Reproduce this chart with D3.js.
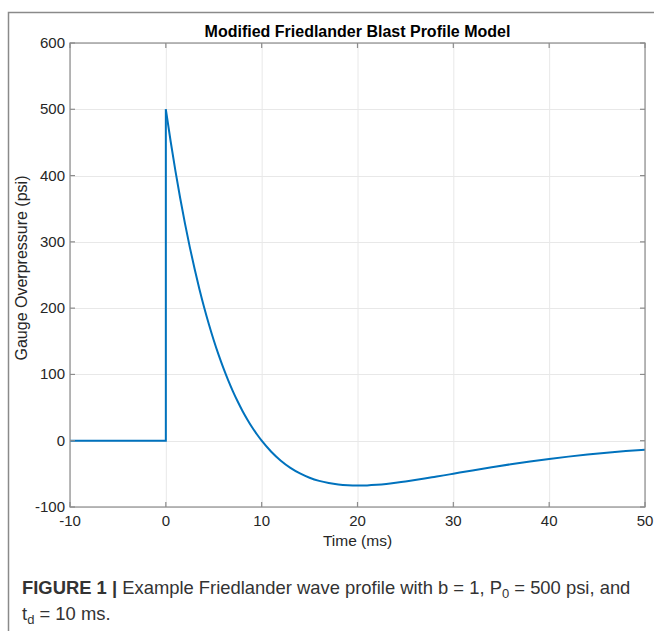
<!DOCTYPE html>
<html><head><meta charset="utf-8">
<script src="https://cdn.jsdelivr.net/npm/d3@7"></script>
<style>
body{margin:0;background:#fff;}
svg{display:block;font-family:"Liberation Sans",Arial,Helvetica,sans-serif;}
</style></head>
<body><svg id="c" width="654" height="631"></svg>
<script>
// Data
const preTime = [-10, 0, 0];
const prePressure = [0, 0, 500];
const decayTime = [0,0.5,1,1.5,2,2.5,3,3.5,4,4.5,5,5.5,6,6.5,7,7.5,8,8.5,9,9.5,10,11,12,13,14,15,16,17,18,19,20,21,22,23,24,25,26,27,28,29,30,32,34,36,38,40,42,44,46,48,50];
const decayPressure = [500,451.8,407.2,365.8,327.5,292.1,259.3,229.0,201.1,175.4,151.6,129.8,109.8,91.4,74.5,59.1,44.9,32.1,20.3,9.7,0,-16.6,-30.1,-40.9,-49.3,-55.8,-60.6,-63.9,-66.1,-67.3,-67.7,-67.4,-66.5,-65.2,-63.5,-61.6,-59.4,-57.1,-54.7,-52.3,-49.8,-44.8,-40.1,-35.5,-31.3,-27.5,-24.0,-20.9,-18.1,-15.6,-13.5];
const xTicks = [-10,0,10,20,30,40,50];
const yTicks = [-100,0,100,200,300,400,500,600];

const svg = d3.select("#c");
const L=70, R=645, T=43, B=507;
const x = d3.scaleLinear().domain([-10,50]).range([L,R]);
const y = d3.scaleLinear().domain([-100,600]).range([B,T]);

// outer frame
svg.append("path").attr("d","M8.5,640 V12.5 H660").attr("fill","none").attr("stroke","#8a8a8a").attr("stroke-width",1.5);

// grid
const g = svg.append("g");
g.selectAll(".gx").data(xTicks).join("line")
 .attr("x1",d=>x(d)+0.5).attr("x2",d=>x(d)+0.5).attr("y1",T).attr("y2",B)
 .attr("stroke","#e8e8e8").attr("stroke-width",1);
g.selectAll(".gy").data(yTicks).join("line")
 .attr("y1",d=>Math.round(y(d))+0.5).attr("y2",d=>Math.round(y(d))+0.5).attr("x1",L).attr("x2",R)
 .attr("stroke","#e8e8e8").attr("stroke-width",1);

// curve
const lineGen = d3.line().x(d=>x(d[0])).y(d=>y(d[1]));
svg.append("path").datum(preTime.map((t,i)=>[t,prePressure[i]]))
 .attr("d",lineGen).attr("fill","none").attr("stroke","#0072BD").attr("stroke-width",2);
svg.append("path").datum(decayTime.map((t,i)=>[t,decayPressure[i]]))
 .attr("d",lineGen.curve(d3.curveMonotoneX)).attr("fill","none").attr("stroke","#0072BD").attr("stroke-width",2);

// axes box
const ax = svg.append("g").attr("stroke","#8c8c8c").attr("fill","none").attr("stroke-width",1.2);
ax.append("rect").attr("x",L).attr("y",T).attr("width",R-L).attr("height",B-T);
xTicks.forEach(t=>{
  ax.append("line").attr("x1",x(t)).attr("x2",x(t)).attr("y1",B).attr("y2",B-5);
  ax.append("line").attr("x1",x(t)).attr("x2",x(t)).attr("y1",T).attr("y2",T+5);
});
yTicks.forEach(t=>{
  ax.append("line").attr("y1",y(t)).attr("y2",y(t)).attr("x1",L).attr("x2",L+5);
  ax.append("line").attr("y1",y(t)).attr("y2",y(t)).attr("x1",R).attr("x2",R-5);
});

// tick labels
svg.selectAll(".xl").data(xTicks).join("text")
 .attr("x",d=>x(d)).attr("y",B+19).attr("text-anchor","middle")
 .attr("font-size",15).attr("fill","#262626").text(d=>d);
svg.selectAll(".yl").data(yTicks).join("text")
 .attr("x",L-5).attr("y",d=>y(d)+5).attr("text-anchor","end")
 .attr("font-size",15).attr("fill","#262626").text(d=>d);

// labels
svg.append("text").attr("x",(L+R)/2).attr("y",546).attr("text-anchor","middle")
 .attr("font-size",15.5).attr("fill","#262626").text("Time (ms)");
svg.append("text").attr("transform",`translate(27,268) rotate(-90)`).attr("text-anchor","middle")
 .attr("font-size",16).attr("fill","#262626").text("Gauge Overpressure (psi)");
svg.append("text").attr("x",(L+R)/2).attr("y",37).attr("text-anchor","middle")
 .attr("font-size",16).attr("font-weight","bold").attr("fill","#000").text("Modified Friedlander Blast Profile Model");

// caption
const cap1 = svg.append("text").attr("x",22).attr("y",594).attr("font-size",18.4).attr("fill","#333");
cap1.append("tspan").attr("font-weight","bold").text("FIGURE 1 | ");
cap1.append("tspan").text("Example Friedlander wave profile with b = 1, P");
cap1.append("tspan").attr("font-size",13).attr("dy",4).text("0");
cap1.append("tspan").attr("dy",-4).text(" = 500 psi, and");
const cap2 = svg.append("text").attr("x",22).attr("y",620).attr("font-size",18.4).attr("fill","#333");
cap2.append("tspan").text("t");
cap2.append("tspan").attr("font-size",13).attr("dy",4).text("d");
cap2.append("tspan").attr("dy",-4).text(" = 10 ms.");
</script></body></html>
